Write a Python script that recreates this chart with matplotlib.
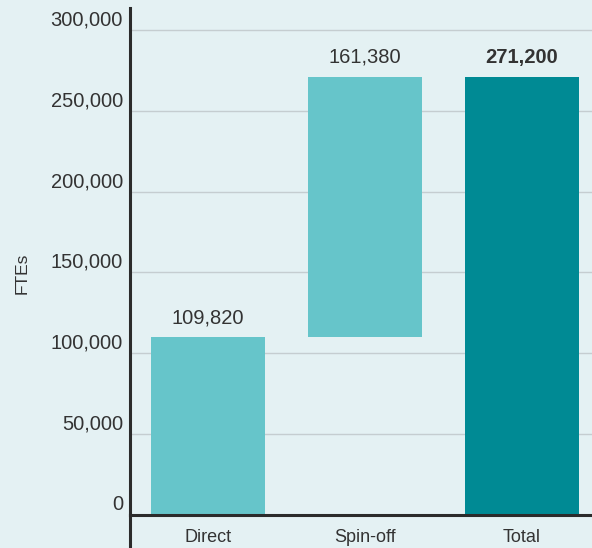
import matplotlib.pyplot as plt
from matplotlib.lines import Line2D
from matplotlib.transforms import ScaledTranslation

# FTE breakdown
categories = ["Direct", "Spin-off", "Total"]
values = [109820, 161380, 271200]
y_ticks = [0, 50000, 100000, 150000, 200000, 250000, 300000]

BG = "#e4f1f3"
LIGHT = "#66c5ca"
DARK = "#008a94"
INK = "#2b2b2b"
TXT = "#333333"

plt.rcParams["font.family"] = ["Liberation Sans", "DejaVu Sans"]

fig = plt.figure(figsize=(5.92, 5.48), dpi=100, facecolor=BG)
ax = fig.add_axes([130 / 592, 33 / 548, 462 / 592, 507 / 548])
ax.set_facecolor(BG)

# waterfall: spin-off sits on top of direct, total from zero
bottoms = [0, values[0], 0]
colors = [LIGHT, LIGHT, DARK]
x = list(range(len(categories)))
ax.bar(x, values, bottom=bottoms, width=0.726, color=colors, zorder=3)

for i, (v, b) in enumerate(zip(values, bottoms)):
    ax.annotate(f"{v:,}", (i, v + b if i == 1 else v), xytext=(0, 7),
                textcoords="offset points", ha="center", va="bottom",
                fontsize=14.5, color=TXT,
                fontweight="bold" if i == 2 else "normal")

ax.set_xlim(-0.497, 2.446)
ax.set_ylim(0, 313600)

ax.set_yticks(y_ticks)
ax.set_yticklabels([f"{t:,}" for t in y_ticks])
ax.tick_params(axis="y", length=0, pad=5, labelsize=14.5, labelcolor=TXT)
shift = ScaledTranslation(0, 0.12, fig.dpi_scale_trans)
for lbl in ax.get_yticklabels():
    lbl.set_transform(lbl.get_transform() + shift)

ax.set_xticks(x)
ax.set_xticklabels(categories)
ax.tick_params(axis="x", length=0, pad=10, labelsize=13, labelcolor=TXT)

ax.grid(axis="y", color="#c5cdd0", linewidth=1, zorder=1)
ax.set_axisbelow(True)

for side in ["top", "right"]:
    ax.spines[side].set_visible(False)
ax.spines["left"].set_color(INK)
ax.spines["left"].set_linewidth(2.2)
ax.spines["bottom"].set_color(INK)
ax.spines["bottom"].set_linewidth(2.2)
ax.spines["bottom"].set_zorder(4)

# left axis line runs on below the baseline
ax.add_line(Line2D([0, 0], [0, -33 / 507], transform=ax.transAxes,
                   color=INK, linewidth=2.2, clip_on=False))

ax.set_ylabel("FTEs", fontsize=12.5, color=TXT)
ax.yaxis.set_label_coords(-0.218, 0.476)

fig.savefig("out.png", dpi=100, facecolor=BG)
